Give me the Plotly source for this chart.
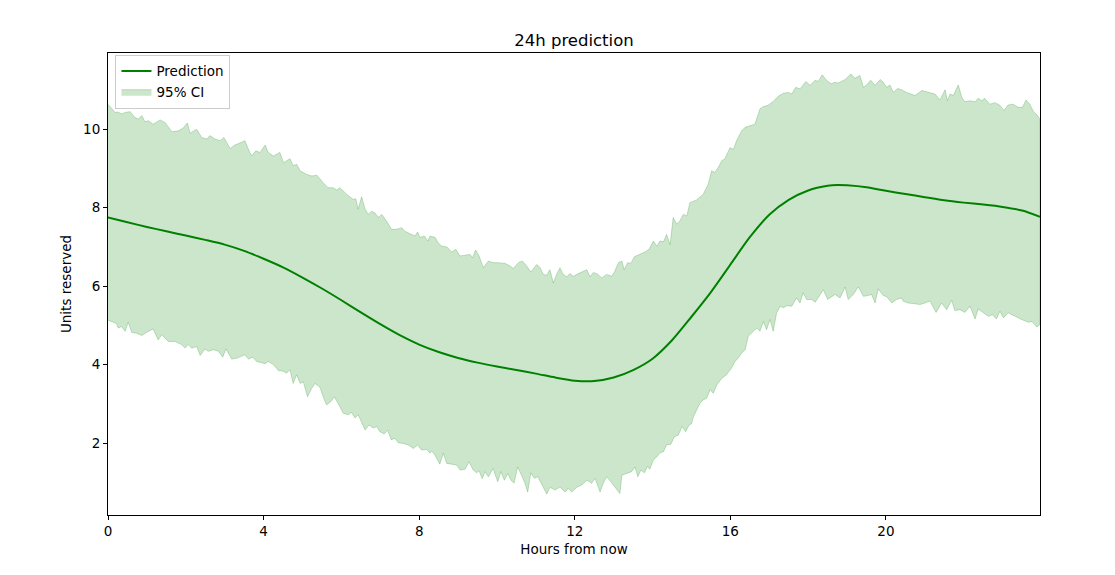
import plotly.graph_objects as go

# Prediction (hours from now, units)
pred_h = [0, 0.5, 1, 1.5, 2, 2.5, 3, 3.5, 4, 4.5, 5, 5.5, 6, 6.5, 7, 7.5, 8, 8.5, 9, 9.5,
          10, 10.5, 11, 11.5, 12, 12.5, 13, 13.5, 14, 14.5, 15, 15.5, 16, 16.5, 17, 17.5, 18, 18.5, 18.75, 19,
          19.5, 20, 20.5, 21, 21.5, 22, 22.5, 23, 23.5, 23.96]
pred_v = [7.75, 7.63, 7.51, 7.40, 7.29, 7.18, 7.06, 6.90, 6.70, 6.48, 6.22, 5.94, 5.64, 5.33, 5.03, 4.75, 4.51, 4.32, 4.17, 4.05,
          3.95, 3.86, 3.77, 3.67, 3.59, 3.58, 3.67, 3.86, 4.15, 4.62, 5.22, 5.85, 6.55, 7.25, 7.82, 8.20, 8.44, 8.56, 8.58, 8.57,
          8.52, 8.43, 8.35, 8.27, 8.19, 8.13, 8.08, 8.02, 7.93, 7.77]

# Upper 95% CI bound
upper_h = [0, 0.18, 0.26, 0.35, 0.44, 0.57, 0.69, 0.78, 0.87, 0.95, 1.04, 1.16, 1.34, 1.47, 1.64, 1.81, 1.94, 2.04, 2.11, 2.28,
           2.41, 2.54, 2.62, 2.75, 2.88, 2.98, 3.14, 3.26, 3.39, 3.52, 3.61, 3.69, 3.80, 3.91, 4.04, 4.12, 4.25, 4.42, 4.51, 4.59,
           4.68, 4.76, 4.85, 4.94, 5.11, 5.24, 5.37, 5.53, 5.66, 5.79, 5.88, 5.96, 6.14, 6.31, 6.37, 6.43, 6.52, 6.61, 6.69, 6.78,
           6.86, 6.95, 7.04, 7.16, 7.29, 7.42, 7.55, 7.63, 7.72, 7.81, 7.89, 7.96, 8.02, 8.13, 8.22, 8.28, 8.41, 8.49, 8.58, 8.71,
           8.84, 8.94, 9.05, 9.18, 9.31, 9.37, 9.45, 9.54, 9.65, 9.78, 9.90, 10.03, 10.21, 10.33, 10.42, 10.55, 10.65, 10.76, 10.87, 11.02,
           11.11, 11.19, 11.28, 11.36, 11.45, 11.53, 11.62, 11.70, 11.79, 11.88, 11.96, 12.09, 12.22, 12.31, 12.39, 12.48, 12.60, 12.69, 12.82, 12.95,
           13.03, 13.12, 13.21, 13.27, 13.36, 13.44, 13.53, 13.68, 13.80, 13.91, 14.02, 14.11, 14.19, 14.28, 14.36, 14.45, 14.53, 14.62, 14.70, 14.79,
           14.88, 14.96, 15.13, 15.30, 15.43, 15.52, 15.60, 15.69, 15.78, 15.86, 15.99, 16.08, 16.16, 16.29, 16.38, 16.50, 16.63, 16.76, 16.85, 16.97,
           17.10, 17.23, 17.36, 17.49, 17.58, 17.68, 17.79, 17.94, 18.05, 18.18, 18.26, 18.36, 18.47, 18.59, 18.69, 18.77, 18.86, 18.95, 19.10, 19.20,
           19.33, 19.42, 19.50, 19.61, 19.72, 19.85, 19.93, 20.02, 20.10, 20.19, 20.30, 20.40, 20.53, 20.75, 20.92, 21.09, 21.26, 21.39, 21.52, 21.58,
           21.65, 21.73, 21.86, 21.95, 22.03, 22.16, 22.29, 22.37, 22.46, 22.54, 22.67, 22.80, 22.93, 23.03, 23.14, 23.27, 23.40, 23.51, 23.60, 23.70,
           23.79, 23.86, 23.96]
upper_v = [10.64, 10.43, 10.44, 10.39, 10.43, 10.45, 10.30, 10.26, 10.35, 10.19, 10.22, 10.13, 10.24, 10.17, 9.94, 9.96, 10.04, 10.16, 9.90, 10.00,
           9.79, 9.75, 9.84, 9.75, 9.71, 9.79, 9.51, 9.60, 9.65, 9.71, 9.49, 9.32, 9.45, 9.41, 9.60, 9.41, 9.32, 9.41, 9.15, 9.19,
           9.25, 9.07, 9.11, 8.94, 8.85, 8.81, 8.83, 8.64, 8.51, 8.51, 8.45, 8.51, 8.34, 8.21, 8.23, 7.96, 8.28, 7.96, 7.83, 7.91,
           7.87, 7.75, 7.83, 7.66, 7.45, 7.45, 7.49, 7.40, 7.36, 7.32, 7.28, 7.38, 7.24, 7.28, 7.15, 7.28, 7.24, 7.10, 7.02, 7.00,
           6.87, 6.94, 6.77, 6.79, 6.81, 6.72, 6.92, 6.77, 6.47, 6.64, 6.60, 6.60, 6.58, 6.52, 6.45, 6.60, 6.64, 6.52, 6.36, 6.55,
           6.47, 6.30, 6.28, 6.42, 6.08, 6.30, 6.47, 6.30, 6.24, 6.32, 6.25, 6.32, 6.38, 6.42, 6.24, 6.35, 6.30, 6.21, 6.30, 6.25,
           6.38, 6.60, 6.64, 6.42, 6.60, 6.58, 6.75, 6.81, 6.87, 6.94, 7.15, 7.02, 7.15, 7.13, 7.32, 7.06, 7.75, 7.58, 7.66, 7.83,
           7.79, 8.13, 8.20, 8.34, 8.60, 8.94, 8.90, 9.03, 9.20, 9.25, 9.53, 9.49, 9.71, 9.96, 10.05, 10.09, 10.13, 10.52, 10.58, 10.61,
           10.71, 10.84, 10.92, 10.94, 10.90, 11.07, 11.03, 11.22, 11.12, 11.25, 11.22, 11.39, 11.25, 11.16, 11.20, 11.18, 11.22, 11.27, 11.41, 11.30,
           11.37, 11.07, 11.13, 11.25, 11.12, 11.27, 11.20, 11.07, 11.13, 10.94, 11.04, 11.01, 10.94, 10.86, 10.99, 10.94, 10.90, 10.75, 11.01, 10.73,
           10.90, 10.86, 11.13, 10.81, 10.70, 10.73, 10.70, 10.79, 10.73, 10.79, 10.64, 10.68, 10.61, 10.48, 10.62, 10.64, 10.56, 10.56, 10.75, 10.64,
           10.45, 10.39, 10.26]

# Lower 95% CI bound
lower_h = [0, 0.14, 0.22, 0.26, 0.35, 0.44, 0.52, 0.61, 0.74, 0.87, 0.99, 1.16, 1.29, 1.38, 1.55, 1.72, 1.89, 1.98, 2.06, 2.15,
           2.28, 2.37, 2.49, 2.58, 2.71, 2.84, 2.95, 3.03, 3.18, 3.31, 3.44, 3.52, 3.61, 3.72, 3.82, 3.95, 4.04, 4.12, 4.25, 4.38,
           4.51, 4.59, 4.68, 4.76, 4.85, 4.94, 5.02, 5.13, 5.24, 5.32, 5.45, 5.53, 5.62, 5.73, 5.82, 5.92, 6.05, 6.18, 6.26, 6.35,
           6.43, 6.52, 6.61, 6.71, 6.82, 6.91, 6.99, 7.10, 7.19, 7.28, 7.38, 7.46, 7.59, 7.72, 7.85, 7.96, 8.06, 8.19, 8.28, 8.32,
           8.41, 8.53, 8.62, 8.71, 8.84, 8.96, 9.05, 9.18, 9.28, 9.39, 9.48, 9.54, 9.62, 9.69, 9.78, 9.90, 10.02, 10.10, 10.19, 10.28,
           10.36, 10.44, 10.53, 10.63, 10.72, 10.79, 10.87, 10.96, 11.05, 11.15, 11.28, 11.36, 11.49, 11.62, 11.75, 11.83, 11.92, 12.05, 12.18, 12.31,
           12.39, 12.43, 12.52, 12.65, 12.73, 12.82, 12.90, 12.99, 13.08, 13.16, 13.21, 13.33, 13.46, 13.55, 13.62, 13.70, 13.79, 13.87, 13.93, 14.02,
           14.11, 14.19, 14.28, 14.36, 14.47, 14.56, 14.66, 14.76, 14.85, 14.94, 15.00, 15.05, 15.13, 15.22, 15.30, 15.39, 15.48, 15.56, 15.65, 15.78,
           15.90, 16.03, 16.12, 16.20, 16.29, 16.38, 16.46, 16.55, 16.68, 16.76, 16.85, 16.93, 17.02, 17.10, 17.19, 17.28, 17.36, 17.45, 17.58, 17.70,
           17.79, 17.87, 17.96, 18.09, 18.18, 18.26, 18.39, 18.50, 18.60, 18.69, 18.82, 18.95, 19.03, 19.16, 19.29, 19.42, 19.54, 19.63, 19.72, 19.80,
           19.93, 20.02, 20.15, 20.27, 20.40, 20.44, 20.57, 20.75, 20.87, 21.00, 21.13, 21.29, 21.43, 21.56, 21.69, 21.77, 21.90, 22.03, 22.16, 22.29,
           22.37, 22.50, 22.63, 22.74, 22.84, 22.93, 23.02, 23.14, 23.27, 23.40, 23.53, 23.66, 23.75, 23.88, 23.96]
lower_v = [5.13, 5.08, 5.05, 4.93, 4.97, 4.85, 5.08, 4.82, 4.80, 4.74, 4.82, 4.91, 4.63, 4.76, 4.59, 4.59, 4.51, 4.42, 4.51, 4.42,
           4.46, 4.23, 4.40, 4.34, 4.38, 4.34, 4.19, 4.40, 4.14, 4.16, 4.21, 4.25, 4.14, 4.19, 4.08, 4.05, 4.02, 4.08, 4.00, 3.85,
           3.83, 3.78, 3.87, 3.52, 3.74, 3.52, 3.56, 3.18, 3.40, 3.52, 3.42, 3.18, 2.97, 3.06, 3.18, 3.00, 2.76, 2.72, 2.78, 2.64,
           2.72, 2.55, 2.33, 2.46, 2.38, 2.42, 2.29, 2.23, 2.33, 2.08, 2.12, 2.01, 1.99, 1.95, 1.86, 1.95, 1.82, 1.84, 1.74, 1.80,
           1.69, 1.46, 1.74, 1.48, 1.46, 1.44, 1.31, 1.33, 1.52, 1.31, 1.24, 1.29, 1.09, 1.27, 1.14, 1.35, 1.01, 1.27, 1.05, 1.22,
           1.05, 0.98, 1.39, 1.18, 0.97, 0.75, 1.24, 1.10, 1.14, 0.93, 0.70, 0.87, 0.80, 0.88, 0.75, 0.84, 0.75, 0.87, 0.93, 1.05,
           1.01, 0.97, 1.10, 0.75, 0.97, 1.14, 1.05, 0.93, 0.80, 0.71, 1.18, 1.22, 1.27, 1.39, 1.14, 1.31, 1.24, 1.41, 1.33, 1.57,
           1.65, 1.75, 1.78, 1.95, 1.97, 2.16, 2.20, 2.42, 2.29, 2.46, 2.49, 2.67, 2.84, 3.02, 3.10, 3.14, 3.36, 3.27, 3.48, 3.65,
           3.74, 3.91, 4.08, 4.16, 4.29, 4.38, 4.72, 4.81, 4.93, 4.85, 5.10, 4.89, 5.15, 4.85, 5.32, 5.49, 5.45, 5.50, 5.49, 5.70,
           5.57, 5.83, 5.66, 5.66, 5.59, 5.70, 5.91, 5.66, 5.73, 5.79, 5.70, 5.98, 5.66, 5.79, 5.98, 5.74, 5.76, 5.79, 5.57, 5.93,
           5.76, 5.73, 5.57, 5.66, 5.70, 5.62, 5.57, 5.55, 5.53, 5.57, 5.62, 5.33, 5.57, 5.40, 5.64, 5.38, 5.40, 5.33, 5.49, 5.16,
           5.42, 5.32, 5.23, 5.27, 5.16, 5.36, 5.19, 5.32, 5.27, 5.19, 5.13, 5.08, 5.10, 4.96, 5.02]

x_ticks = [0, 4, 8, 12, 16, 20]
y_ticks = [2, 4, 6, 8, 10]

FONT = "DejaVu Sans"

fig = go.Figure()

band_x = upper_h + lower_h[::-1]
band_y = upper_v + lower_v[::-1]
fig.add_trace(go.Scatter(
    x=band_x, y=band_y, mode="lines", fill="toself",
    fillcolor="rgba(0,128,0,0.2)", line=dict(color="rgba(0,128,0,0.22)", width=1),
    name="95% CI", legendrank=2, hoverinfo="skip",
))
fig.add_trace(go.Scatter(
    x=pred_h, y=pred_v, mode="lines", line=dict(color="#008000", width=2, shape="spline", smoothing=0.8),
    name="Prediction", legendrank=1,
))

ymin = min(lower_v); ymax = max(upper_v)
pad = 0.05 * (ymax - ymin)

axis_common = dict(
    showgrid=False, zeroline=False, showline=True, linecolor="black", linewidth=1,
    mirror=True, ticks="outside", ticklen=4, tickwidth=1, tickcolor="black",
    tickfont=dict(family=FONT, size=13.5, color="black"),
)

fig.update_layout(
    width=1115, height=575,
    margin=dict(l=108, r=75, t=53, b=60),
    paper_bgcolor="white", plot_bgcolor="white",
    font=dict(family=FONT, color="black"),
    title=dict(text="24h prediction", x=0.5, xref="paper", xanchor="center",
               y=1 - 40 / 575, yanchor="middle", font=dict(family=FONT, size=16.5, color="black")),
    showlegend=True,
    legend=dict(x=0.008, y=0.996, xanchor="left", yanchor="top",
                bgcolor="rgba(255,255,255,0.85)", bordercolor="#cccccc", borderwidth=1,
                font=dict(family=FONT, size=13.5, color="black"), tracegroupgap=2),
    xaxis=dict(range=[0, max(upper_h)], tickvals=x_ticks,
               title=dict(text="Hours from now", font=dict(family=FONT, size=13.5), standoff=6),
               **axis_common),
    yaxis=dict(range=[ymin - pad, ymax + pad], tickvals=y_ticks,
               title=dict(text="Units reserved", font=dict(family=FONT, size=13.5), standoff=8),
               **axis_common),
)

fig.write_html("out.html")
